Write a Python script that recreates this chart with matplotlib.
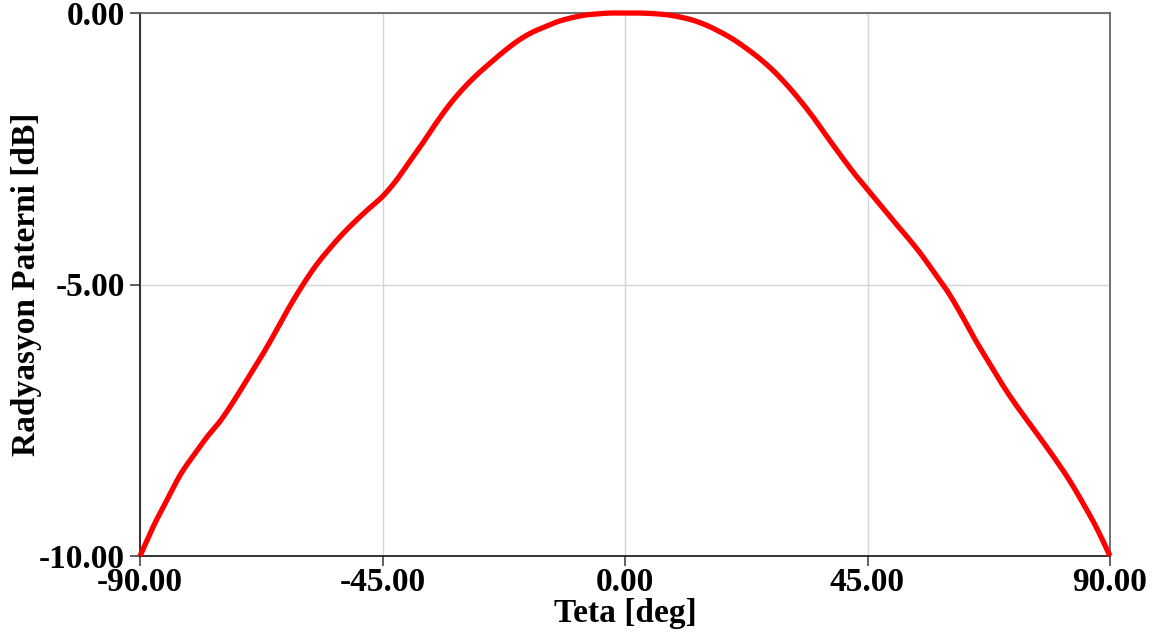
import matplotlib
matplotlib.use("Agg")
import matplotlib.pyplot as plt
import numpy as np

theta = [-90, -87.5, -85, -82.5, -80, -77.5, -75, -72.5, -70, -67.5, -65, -62.5,
         -60, -57.5, -55, -52.5, -50, -47.5, -45, -42.5, -40, -37.5, -35, -32.5,
         -30, -27.5, -25, -22.5, -20, -17.5, -15, -12.5, -10, -7.5, -5, -2.5, 0,
         2.5, 5, 7.5, 10, 12.5, 15, 17.5, 20, 22.5, 25, 27.5, 30, 32.5, 35, 37.5,
         40, 42.5, 45, 47.5, 50, 52.5, 55, 57.5, 60, 62.5, 65, 67.5, 70, 72.5,
         75, 77.5, 80, 82.5, 85, 87.5, 90]
pattern_db = [-10.0, -9.45, -8.97, -8.50, -8.14, -7.80, -7.50, -7.13, -6.73, -6.33, -5.90, -5.45,
              -5.04, -4.67, -4.36, -4.08, -3.83, -3.60, -3.38, -3.09, -2.74, -2.39, -2.02, -1.68,
              -1.39, -1.14, -0.92, -0.71, -0.52, -0.37, -0.26, -0.16, -0.09, -0.04, -0.015, 0.0, 0.0,
              0.0, -0.01, -0.03, -0.07, -0.13, -0.22, -0.34, -0.48, -0.65, -0.84, -1.06, -1.32, -1.61,
              -1.93, -2.28, -2.62, -2.95, -3.25, -3.55, -3.85, -4.14, -4.45, -4.80, -5.15, -5.57,
              -6.02, -6.43, -6.84, -7.21, -7.55, -7.89, -8.24, -8.61, -9.03, -9.48, -10.0]

x_ticks = [-90, -45, 0, 45, 90]
y_ticks = [-10, -5, 0]
x_label = "Teta [deg]"
y_label = "Radyasyon Paterni [dB]"


def catmull_rom(xs, ys, n=12):
    xs = np.asarray(xs, float)
    ys = np.asarray(ys, float)
    px = np.concatenate([[2 * xs[0] - xs[1]], xs, [2 * xs[-1] - xs[-2]]])
    py = np.concatenate([[2 * ys[0] - ys[1]], ys, [2 * ys[-1] - ys[-2]]])
    out_x, out_y = [], []
    t = np.linspace(0, 1, n, endpoint=False)
    for i in range(1, len(px) - 2):
        for p, out in ((px, out_x), (py, out_y)):
            p0, p1, p2, p3 = p[i - 1], p[i], p[i + 1], p[i + 2]
            out.extend(0.5 * (2 * p1 + (-p0 + p2) * t + (2 * p0 - 5 * p1 + 4 * p2 - p3) * t ** 2
                              + (-p0 + 3 * p1 - 3 * p2 + p3) * t ** 3))
    out_x.append(xs[-1])
    out_y.append(ys[-1])
    return np.array(out_x), np.array(out_y)


plt.rcParams['font.family'] = ['Liberation Serif', 'DejaVu Serif']
plt.rcParams['font.weight'] = 'bold'

fig = plt.figure(figsize=(11.61, 6.39), dpi=100)
ax = fig.add_axes([140/1161, 83/639, 970/1161, 543/639])

sx, sy = catmull_rom(theta, pattern_db)
ax.plot(sx, np.minimum(sy, 0.0), color='#ff0000', lw=3.8, solid_capstyle='butt',
        solid_joinstyle='round', zorder=3, clip_on=False)

ax.set_xlim(-90, 90)
ax.set_ylim(-10, 0)
ax.set_xticks(x_ticks)
ax.set_yticks(y_ticks)
ax.set_xticklabels([f"{v:.2f}" for v in x_ticks], fontsize=24, fontweight='bold')
ax.set_yticklabels([f"{v:.2f}" for v in y_ticks], fontsize=24, fontweight='bold')
ax.tick_params(axis='x', direction='out', length=7, width=1.2, color='#444444', pad=1)
ax.tick_params(axis='y', direction='out', length=7, width=1.2, color='#444444', pad=4)

ax.grid(True, color='#d4d4d4', lw=1.0)
ax.set_axisbelow(True)
for side in ['left', 'bottom']:
    ax.spines[side].set_color('#222222')
    ax.spines[side].set_linewidth(1.3)
for side in ['top', 'right']:
    ax.spines[side].set_color('#666666')
    ax.spines[side].set_linewidth(1.3)

ax.set_xlabel(x_label, fontsize=24, fontweight='bold', labelpad=0)
ax.set_ylabel(y_label, fontsize=24, fontweight='bold', labelpad=-2)

fig.savefig("out.png", dpi=100)
